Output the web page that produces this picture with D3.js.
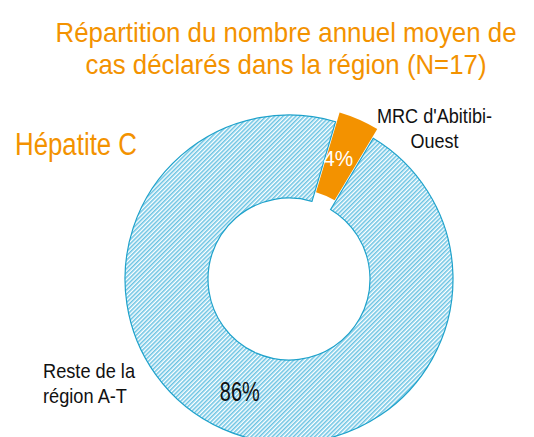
<!DOCTYPE html>
<html>
<head>
<meta charset="utf-8">
<script src="https://cdn.jsdelivr.net/npm/d3@7/dist/d3.min.js"></script>
<style>
  body { margin: 0; background: #fff; }
  svg { display: block; font-family: "Liberation Sans", Arial, sans-serif; }
</style>
</head>
<body>
<div id="chart"></div>
<script>
// data
var categories = ["MRC d'Abitibi-Ouest", "Reste de la région A-T"];
var values = [4, 96];
var pctLabels = ["4%", "86%"];
var catLines = [["MRC d'Abitibi-", "Ouest"], ["Reste de la", "région A-T"]];
var titleLines = ["Répartition du nombre annuel moyen de", "cas déclarés dans la région (N=17)"];
var subtitle = "Hépatite C";

var width = 534, height = 437;
var cx = 289, cy = 279;
var outerR = 164, innerR = 81;
var startDeg = 16.5;
var explode = 10;
var orange = "#f39200";

var svg = d3.select("#chart").append("svg").attr("width", width).attr("height", height);

// hatch pattern for the rest of the region
var defs = svg.append("defs");
var pat = defs.append("pattern")
  .attr("id", "hatch")
  .attr("patternUnits", "userSpaceOnUse")
  .attr("width", 3).attr("height", 3)
  .attr("patternTransform", "rotate(45)");
pat.append("rect").attr("width", 3).attr("height", 3).attr("fill", "#ffffff");
pat.append("line").attr("x1", 0.8).attr("x2", 0.8).attr("y1", 0).attr("y2", 3)
  .attr("stroke", "#5bbde0").attr("stroke-width", 1.4);

var pie = d3.pie().sort(null).value(function(d) { return d; })
  .startAngle(startDeg * Math.PI / 180)
  .endAngle(startDeg * Math.PI / 180 + 2 * Math.PI);
var arc = d3.arc().innerRadius(innerR).outerRadius(outerR);
var arcs = pie(values);

var g = svg.append("g").attr("transform", "translate(" + cx + "," + cy + ")");

function offset(d, i) {
  if (i != 0) return [0, 0];
  var a = (d.startAngle + d.endAngle) / 2;
  return [Math.sin(a) * explode, -Math.cos(a) * explode];
}

g.selectAll("path.slice")
  .data(arcs).enter().append("path")
  .attr("class", "slice")
  .attr("d", arc)
  .attr("transform", function(d, i) { var o = offset(d, i); return "translate(" + o[0] + "," + o[1] + ")"; })
  .attr("fill", function(d, i) { return i == 0 ? orange : "url(#hatch)"; })
  .attr("stroke", function(d, i) { return i == 0 ? "none" : "#1fa2cb"; })
  .attr("stroke-width", 1.2);

// percent labels at centroids
var pctStyle = [{ size: 22, len: 30, color: "#ffffff" }, { size: 27, len: 40, color: "#111111" }];
g.selectAll("text.pct")
  .data(arcs).enter().append("text")
  .attr("class", "pct")
  .attr("x", function(d, i) { return arc.centroid(d)[0] + offset(d, i)[0] - 4 * (i == 0); })
  .attr("y", function(d, i) { return arc.centroid(d)[1] + offset(d, i)[1]; })
  .attr("dy", "0.36em")
  .attr("text-anchor", "middle")
  .attr("font-size", function(d, i) { return pctStyle[i].size; })
  .attr("textLength", function(d, i) { return pctStyle[i].len; })
  .attr("lengthAdjust", "spacingAndGlyphs")
  .attr("fill", function(d, i) { return pctStyle[i].color; })
  .text(function(d, i) { return pctLabels[i]; });

// category labels
var catPos = [
  { x: 434.5, y: 123, anchor: "middle", lens: [115, 48] },
  { x: 43, y: 378, anchor: "start", lens: [92, 84] }
];
catLines.forEach(function(lines, i) {
  var t = svg.append("text")
    .attr("text-anchor", catPos[i].anchor)
    .attr("font-size", 21)
    .attr("fill", "#111111");
  lines.forEach(function(s, j) {
    t.append("tspan")
      .attr("x", catPos[i].x)
      .attr("y", catPos[i].y + j * 25)
      .attr("textLength", catPos[i].lens[j])
      .attr("lengthAdjust", "spacingAndGlyphs")
      .text(s);
  });
});

// title
var titleLens = [461, 401];
var title = svg.append("text")
  .attr("text-anchor", "middle")
  .attr("font-size", 28)
  .attr("fill", orange);
titleLines.forEach(function(s, j) {
  title.append("tspan")
    .attr("x", 286)
    .attr("y", 42 + j * 32)
    .attr("textLength", titleLens[j])
    .attr("lengthAdjust", "spacingAndGlyphs")
    .text(s);
});

// subtitle
svg.append("text")
  .attr("x", 15).attr("y", 155)
  .attr("font-size", 31)
  .attr("textLength", 122)
  .attr("lengthAdjust", "spacingAndGlyphs")
  .attr("fill", orange)
  .text(subtitle);
</script>
</body>
</html>
